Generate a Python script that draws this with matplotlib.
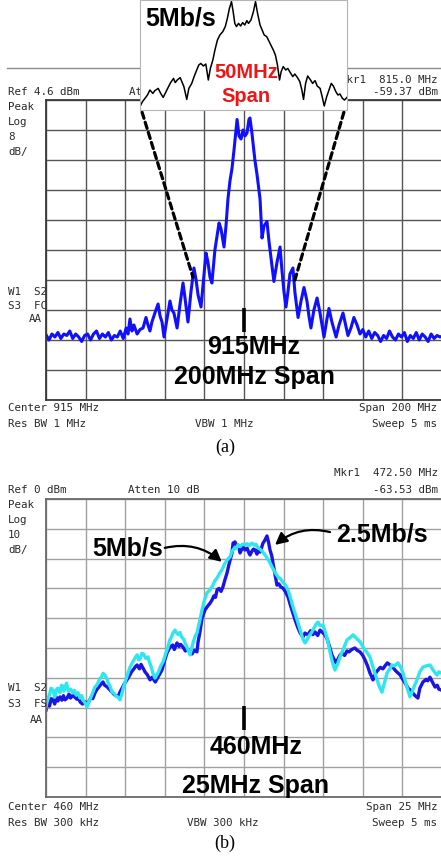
import numpy as np
import matplotlib
matplotlib.use('Agg')
import matplotlib.pyplot as plt
from matplotlib.patches import ConnectionPatch
from matplotlib.lines import Line2D

# ---------------- data: panel (a) 915 MHz, 200 MHz span ----------------
a_center, a_span = 915.0, 200.0          # MHz
a_ref, a_scale = 4.6, 8.0                # dBm, dB/div
a_freq = [815, 816.5, 818, 819.5, 821, 822.5, 824, 825.5, 827, 828.5, 830, 831.5, 833, 834.5,
          836, 837.5, 839, 840.5, 842, 843.5, 845, 846.5, 848, 849.5, 851, 852.5, 854, 855.5,
          856.4, 857.4, 858.4, 859.4, 861, 862.5, 864, 865.5, 866.5, 867.5, 868.5, 870, 871.6,
          872.6, 873.6, 874.6, 876.1, 877.6, 878.6, 879.6, 881.2, 882.7, 884.2, 885.2, 886.7,
          888.2, 889.7, 890.8, 891.8, 893.3, 894.8, 895.8, 896.8, 897.8, 898.8, 900.3, 902.4,
          903.4, 904.9, 905.9, 906.9, 907.9, 908.9, 909.9, 911, 911.5, 912.5, 913.5, 914.5,
          915.5, 916.5, 917.5, 918, 919, 920.5, 921.6, 923.1, 924.1, 925.1, 926.6, 927.6, 929.1,
          930.1, 931.7, 933.2, 934.2, 935.2, 936.2, 937.2, 938.2, 939.7, 940.7, 942.3, 943.8,
          945.3, 946.8, 947.8, 948.8, 950.3, 951.9, 953.4, 954.4, 955.4, 956.9, 957.9, 959.4,
          961.5, 963, 965, 966, 967.5, 969, 970.5, 972.1, 973.6, 975, 976.5, 978, 979.5, 981,
          982.5, 984, 985.5, 987, 988.5, 990, 991.5, 993, 994.5, 996, 997.5, 999, 1000.5, 1002,
          1003.5, 1005, 1006.5, 1008, 1009.5, 1011, 1012.5, 1014, 1015]
a_level = [-58.0, -59.4, -57.8, -58.6, -57.4, -59.0, -57.8, -58.2, -57.0, -59.0, -57.8, -58.6,
           -59.8, -58.2, -57.8, -59.4, -57.8, -57.0, -59.0, -57.8, -58.6, -57.4, -59.4, -58.2,
           -58.6, -57.0, -59.0, -56.2, -57.8, -53.8, -57.0, -55.4, -57.8, -56.6, -56.2, -53.4,
           -55.4, -57.0, -54.6, -52.2, -49.8, -53.0, -54.6, -58.6, -53.8, -49.0, -51.4, -52.2,
           -56.2, -49.8, -44.2, -48.2, -54.6, -46.6, -40.2, -43.4, -47.4, -50.6, -41.8, -36.2,
           -38.6, -42.6, -44.2, -35.4, -28.2, -29.8, -34.6, -29.0, -21.8, -17.0, -13.8, -9.0,
           -3.4, -0.6, -5.0, -5.8, -3.4, -5.0, -4.2, -0.6, -0.2, -4.2, -11.4, -15.4, -21.8,
           -32.2, -29.0, -27.8, -33.0, -39.4, -43.8, -38.6, -34.6, -41.0, -46.6, -50.6, -46.6,
           -41.8, -40.2, -46.6, -53.4, -49.0, -45.4, -49.0, -53.0, -56.2, -51.4, -48.2, -52.2,
           -55.4, -58.6, -53.8, -51.0, -54.6, -58.6, -55.4, -52.2, -54.6, -58.2, -56.2, -53.4,
           -55.4, -57.8, -56.6, -58.6, -57.0, -59.0, -57.4, -58.2, -59.8, -58.2, -59.0, -57.0,
           -58.6, -59.4, -57.8, -58.6, -57.4, -59.8, -58.2, -59.0, -57.4, -59.4, -57.8, -58.6,
           -59.8, -57.8, -59.0, -58.2, -58.6, -58.4]

# inset: 5 Mb/s, 50 MHz span (relative level, dB)
inset_freq = [890.0, 890.6, 891.2, 891.8, 892.4, 893.1, 893.6, 894.4, 895.0, 895.6, 896.3, 896.8,
              897.4, 898.1, 898.5, 899.0, 899.7, 900.1, 900.6, 901.3, 901.8, 902.5, 903.0, 903.7,
              904.2, 904.7, 905.3, 905.9, 906.5, 907.0, 907.6, 908.1, 908.7, 909.3, 910.0, 910.6,
              911.1, 911.6, 912.1, 912.5, 912.9, 913.3, 913.8, 914.3, 914.8, 915.3, 915.8, 916.2,
              916.8, 917.4, 917.9, 918.4, 919.0, 919.5, 920.0, 920.6, 921.2, 921.6, 922.2, 922.7,
              923.2, 923.7, 924.1, 924.6, 925.2, 925.7, 926.3, 926.9, 927.4, 928.0, 928.6, 929.1,
              929.5, 930.0, 930.5, 931.1, 931.7, 932.3, 932.8, 933.5, 934.0, 934.5, 935.1, 935.7,
              936.2, 936.7, 937.3, 937.8, 938.3, 938.9, 939.4, 940.0]
inset_level = [-53.3, -50.8, -49.2, -47.5, -45.0, -46.7, -45.3, -44.2, -46.7, -48.7, -45.8, -43.7,
               -41.3, -39.2, -41.3, -40.0, -38.8, -40.8, -43.3, -49.7, -44.2, -41.7, -38.7, -35.0,
               -32.5, -31.7, -33.0, -32.0, -40.0, -34.2, -30.0, -25.0, -20.0, -17.5, -15.8, -13.3,
               -9.2, -4.2, -0.8, -5.8, -11.7, -13.3, -11.7, -13.0, -11.3, -12.5, -10.3, -11.7,
               -10.0, -5.8, -0.8, -6.7, -12.5, -15.0, -17.5, -18.3, -20.8, -22.5, -25.0, -27.5,
               -32.5, -40.0, -35.8, -33.3, -35.0, -34.2, -36.3, -38.3, -37.0, -38.7, -40.8, -45.0,
               -49.7, -41.7, -38.0, -39.7, -41.7, -40.3, -43.0, -44.2, -48.3, -53.0, -48.3, -44.7,
               -41.7, -43.0, -45.8, -47.5, -47.0, -49.2, -50.0, -48.7]
inset_center, inset_span = 915.0, 50.0

# ---------------- data: panel (b) 460 MHz, 25 MHz span ----------------
b_center, b_span = 460.0, 25.0
b_ref, b_scale = 0.0, 10.0
b5_freq = [447.5, 447.6, 447.7, 447.82, 447.94, 448.05, 448.15, 448.25, 448.38, 448.48, 448.55,
           448.62, 448.7, 448.8, 448.9, 449.05, 449.2, 449.3, 449.4, 449.52, 449.65, 449.75,
           449.85, 449.97, 450.09, 450.2, 450.3, 450.45, 450.59, 450.7, 450.8, 450.9, 451.0,
           451.1, 451.22, 451.35, 451.45, 451.55, 451.67, 451.8, 451.9, 452.05, 452.17, 452.28,
           452.4, 452.55, 452.68, 452.8, 452.95, 453.1, 453.25, 453.35, 453.45, 453.55, 453.65,
           453.8, 453.94, 454.05, 454.15, 454.25, 454.38, 454.5, 454.6, 454.75, 454.9, 455.05,
           455.2, 455.3, 455.4, 455.52, 455.64, 455.75, 455.85, 455.95, 456.05, 456.18, 456.3,
           456.45, 456.59, 456.7, 456.8, 456.92, 457.03, 457.2, 457.35, 457.5, 457.66, 457.85,
           458.04, 458.15, 458.3, 458.45, 458.61, 458.75, 458.93, 459.05, 459.12, 459.24, 459.31,
           459.43, 459.52, 459.62, 459.75, 459.9, 460.06, 460.2, 460.35, 460.5, 460.65, 460.75,
           460.88, 461.0, 461.15, 461.33, 461.45, 461.6, 461.77, 461.9, 462.0, 462.15, 462.3,
           462.46, 462.6, 462.78, 462.95, 463.09, 463.25, 463.41, 463.6, 463.72, 463.85, 463.95,
           464.1, 464.29, 464.45, 464.55, 464.67, 464.8, 464.99, 465.15, 465.3, 465.5, 465.62,
           465.74, 465.9, 466.06, 466.3, 466.5, 466.7, 466.88, 467.05, 467.2, 467.35, 467.51,
           467.7, 467.95, 468.15, 468.4, 468.55, 468.71, 468.85, 469.03, 469.2, 469.34, 469.5,
           469.72, 469.9, 470.04, 470.25, 470.48, 470.7, 470.92, 471.1, 471.3, 471.5, 471.74,
           471.95, 472.18, 472.3, 472.44]
b5_level = [-69.8, -67.0, -66.0, -63.5, -64.1, -66.5, -64.0, -63.5, -65.0, -62.5, -63.0, -64.5,
            -63.1, -61.8, -64.5, -63.8, -65.1, -64.2, -65.8, -65.0, -66.8, -66.0, -67.5, -68.5,
            -69.8, -68.0, -67.0, -65.0, -63.1, -62.5, -61.5, -60.2, -59.8, -58.5, -59.1, -60.5,
            -62.0, -63.0, -64.8, -65.2, -66.0, -66.5, -67.4, -65.5, -63.0, -60.5, -58.4, -56.5,
            -55.0, -53.5, -52.3, -54.0, -53.5, -51.8, -52.0, -53.5, -53.0, -55.0, -56.5, -58.5,
            -60.1, -59.0, -58.0, -56.0, -54.5, -52.0, -49.7, -47.5, -46.5, -45.0, -44.0, -45.0,
            -45.5, -44.8, -46.2, -47.0, -48.5, -50.5, -52.3, -50.0, -48.0, -46.0, -45.0, -41.0,
            -37.2, -34.0, -31.5, -30.5, -28.9, -27.5, -26.5, -25.0, -23.8, -22.0, -20.5, -19.8,
            -19.5, -17.5, -17.1, -16.2, -16.5, -15.4, -16.0, -15.2, -15.4, -15.0, -15.6, -14.8,
            -15.5, -15.2, -16.4, -16.8, -17.5, -18.8, -19.8, -21.0, -22.8, -24.0, -25.0, -26.2,
            -26.8, -27.9, -28.8, -30.5, -33.5, -36.2, -38.8, -41.6, -45.0, -47.0, -48.3, -47.5,
            -46.0, -44.6, -43.0, -42.0, -41.3, -42.5, -42.3, -45.0, -48.0, -53.0, -55.5, -57.4,
            -55.5, -53.0, -50.0, -47.3, -46.5, -45.6, -46.5, -47.3, -48.0, -49.7, -51.0, -53.0,
            -56.5, -60.7, -63.0, -64.8, -62.0, -58.4, -57.0, -55.7, -56.0, -55.0, -56.5, -58.4,
            -62.5, -66.4, -63.5, -60.7, -58.0, -56.4, -56.0, -55.7, -57.5, -59.1, -58.0, -58.4]
b25_freq = [447.5, 447.6, 447.72, 447.83, 447.94, 448.05, 448.15, 448.25, 448.38, 448.5, 448.6,
            448.7, 448.83, 448.95, 449.05, 449.2, 449.32, 449.45, 449.55, 449.65, 449.8, 449.95,
            450.09, 450.2, 450.35, 450.45, 450.59, 450.7, 450.85, 451.0, 451.1, 451.2, 451.35,
            451.54, 451.7, 451.85, 452.05, 452.15, 452.3, 452.45, 452.61, 452.75, 452.9, 453.05,
            453.15, 453.25, 453.4, 453.5, 453.62, 453.75, 453.9, 454.07, 454.2, 454.4, 454.6,
            454.82, 455.0, 455.15, 455.33, 455.5, 455.6, 455.77, 455.9, 456.0, 456.15, 456.3,
            456.45, 456.59, 456.72, 456.85, 457.03, 457.1, 457.22, 457.35, 457.54, 457.7, 457.85,
            457.98, 458.1, 458.2, 458.3, 458.42, 458.55, 458.67, 458.8, 458.93, 459.05, 459.15,
            459.24, 459.31, 459.43, 459.55, 459.65, 459.75, 459.85, 459.95, 460.06, 460.2, 460.3,
            460.38, 460.5, 460.6, 460.7, 460.82, 460.92, 461.01, 461.1, 461.2, 461.3, 461.45,
            461.55, 461.64, 461.75, 461.83, 461.95, 462.08, 462.2, 462.32, 462.46, 462.6, 462.78,
            462.95, 463.09, 463.25, 463.41, 463.55, 463.72, 463.85, 464.04, 464.2, 464.35, 464.48,
            464.65, 464.8, 464.92, 465.1, 465.24, 465.4, 465.55, 465.7, 465.81, 465.95, 466.05,
            466.19, 466.35, 466.5, 466.63, 466.8, 467.0, 467.15, 467.32, 467.5, 467.64, 467.8,
            467.95, 468.05, 468.14, 468.3, 468.46, 468.6, 468.77, 468.9, 469.05, 469.22, 469.4,
            469.55, 469.66, 469.85, 470.04, 470.2, 470.35, 470.48, 470.61, 470.8, 470.98, 471.1,
            471.3, 471.5, 471.6, 471.74, 471.9, 472.06, 472.2, 472.3, 472.44]
b25_level = [-70.8, -68.5, -69.5, -67.0, -67.4, -68.8, -66.5, -67.8, -66.4, -67.5, -66.0, -67.4,
             -66.8, -65.5, -66.8, -65.8, -66.5, -67.2, -66.5, -68.1, -68.8, -68.0, -69.1, -68.0,
             -66.5, -67.0, -65.1, -64.0, -63.0, -62.0, -61.4, -62.5, -63.0, -64.1, -65.0, -65.8,
             -66.4, -65.0, -63.5, -62.0, -60.7, -59.5, -58.0, -57.0, -56.2, -55.7, -57.0, -55.5,
             -56.7, -58.0, -59.0, -60.7, -59.8, -61.4, -59.5, -57.4, -54.0, -51.5, -49.7, -49.0,
             -50.5, -48.3, -49.5, -48.8, -49.7, -51.0, -50.5, -51.3, -52.0, -50.8, -51.3, -48.0,
             -44.6, -40.0, -37.2, -36.0, -35.0, -33.9, -32.5, -33.0, -30.5, -30.0, -31.0, -29.5,
             -27.0, -24.8, -22.0, -20.0, -18.1, -14.8, -14.4, -16.0, -15.5, -18.1, -17.0, -16.0,
             -17.1, -16.5, -18.0, -18.8, -17.5, -16.8, -17.1, -18.5, -16.5, -17.8, -16.5, -14.8,
             -14.0, -12.4, -14.5, -17.1, -19.0, -21.5, -25.0, -28.9, -28.5, -29.5, -29.9, -31.0,
             -32.9, -36.0, -38.3, -41.0, -43.3, -45.0, -46.3, -45.0, -45.6, -44.2, -45.5, -44.6,
             -45.8, -44.0, -44.6, -45.5, -46.9, -49.5, -52.3, -54.0, -55.0, -53.5, -52.5, -51.7,
             -52.5, -51.0, -51.3, -50.5, -50.0, -50.8, -51.3, -52.5, -54.0, -56.0, -58.4, -59.5,
             -60.7, -58.5, -57.4, -56.5, -57.0, -56.0, -55.0, -55.7, -56.5, -57.5, -58.1, -59.0,
             -60.7, -62.0, -63.5, -64.0, -64.8, -66.0, -66.8, -63.5, -61.4, -60.5, -61.0, -59.8,
             -61.5, -63.1, -62.5, -63.8, -64.1]

# ---------------- figure ----------------
W, H = 441, 856
fig = plt.figure(figsize=(W / 100, H / 100), dpi=100)
fig.patch.set_facecolor('white')


def fx(px):
    return px / W


def fy(py):
    return 1 - py / H


MONO = 'DejaVu Sans Mono'
SANS = 'Liberation Sans'
SERIF = 'Liberation Serif'


def itext(px, py, s, ha='left', **kw):
    fig.text(fx(px), fy(py), s, ha=ha, va='center', family=MONO, size=7.8,
             color='#2a2a2a', **kw)


def btext(px, py, s, size=18, color='black', ha='center', z=12):
    fig.text(fx(px), fy(py), s, ha=ha, va='baseline', family=SANS, weight='bold',
             size=size, color=color, zorder=z)


def setup_screen(ax, center, span, ref, scale, grid_col, spine_col):
    ax.set_xlim(center - span / 2, center + span / 2)
    ax.set_ylim(ref - 10 * scale, ref)
    ax.set_xticks(np.linspace(center - span / 2, center + span / 2, 11))
    ax.set_yticks(np.linspace(ref - 10 * scale, ref, 11))
    ax.grid(True, color=grid_col, lw=1.0)
    ax.set_axisbelow(True)
    ax.tick_params(length=0, labelleft=False, labelbottom=False)
    for s in ax.spines.values():
        s.set_color(spine_col)
        s.set_linewidth(1.3)


# ---------- panel (a) ----------
fig.add_artist(Line2D([fx(7), 1.0], [fy(68), fy(68)], transform=fig.transFigure,
                      color='#8c8c8c', lw=1.0))
ax_a = fig.add_axes([fx(46), fy(400), 396 / W, 300 / H])
setup_screen(ax_a, a_center, a_span, a_ref, a_scale, '#555555', '#3a3a3a')
ax_a.plot(a_freq, a_level, color='#1010ff', lw=2.2, solid_joinstyle='round')
a_mark = (-57.2, -50.9)
ax_a.plot([a_center, a_center], a_mark, color='black', lw=2.6, solid_capstyle='butt')

itext(438, 80, 'Mkr1  815.0 MHz', ha='right')
itext(8, 92, 'Ref 4.6 dBm')
itext(129, 92, 'Atten 10 dB')
itext(438, 92, '-59.37 dBm', ha='right')
for py, s in [(107, 'Peak'), (122, 'Log'), (137, '8'), (152, 'dB/')]:
    itext(8, py, s)
itext(8, 292, 'W1  S2')
itext(8, 306, 'S3  FC')
itext(42, 319, 'AA', ha='right')
itext(8, 408, 'Center 915 MHz')
itext(8, 424, 'Res BW 1 MHz')
itext(224, 424, 'VBW 1 MHz', ha='center')
itext(437, 408, 'Span 200 MHz', ha='right')
itext(437, 424, 'Sweep 5 ms', ha='right')
btext(254, 354, '915MHz')
btext(254, 384, '200MHz Span')
fig.text(fx(225), fy(447), '(a)', ha='center', va='center', family=SERIF, size=13)

# inset
ins = fig.add_axes([fx(140), fy(110), 207 / W, 110 / H])
ins.set_zorder(10)
ins.set_xlim(inset_center - inset_span / 2, inset_center + inset_span / 2)
ins.set_ylim(-55, 0)
ins.set_xticks([])
ins.set_yticks([])
for s in ins.spines.values():
    s.set_color('#b4b4b4')
    s.set_linewidth(0.8)
ins.plot(inset_freq, inset_level, color='black', lw=1.1)
btext(145, 25, '5Mb/s', ha='left')
btext(246, 78, '50MHz', size=14.5, color='#f01414')
btext(246, 102, 'Span', size=14.5, color='#f01414')

# dashed zoom lines
left_end = (889.2, -42.6)
right_end = (940.7, -43.4)
for xa, xyb in [(0.01, left_end), (0.985, right_end)]:
    con = ConnectionPatch(xyA=(xa, -0.02), coordsA=ins.transAxes, xyB=xyb,
                          coordsB=ax_a.transData, color='black', lw=2.3,
                          linestyle=(0, (2.0, 1.3)), zorder=5)
    fig.add_artist(con)

# ---------- panel (b) ----------
ax_b = fig.add_axes([fx(46), fy(797), 396 / W, 298 / H])
setup_screen(ax_b, b_center, b_span, b_ref, b_scale, '#a0a0a0', '#6a6a6a')
ax_b.plot(b25_freq, b25_level, color='#1a14e6', lw=2.4, solid_joinstyle='round')
ax_b.plot(b5_freq, b5_level, color='#2ee6f0', lw=2.4, solid_joinstyle='round')
b_mark = (-77.5, -69.5)
ax_b.plot([b_center, b_center], b_mark, color='black', lw=2.6, solid_capstyle='butt')

arrow_kw = dict(arrowstyle='-|>,head_length=0.55,head_width=0.28', lw=1.6, color='black',
                shrinkA=0, shrinkB=0, mutation_scale=13)
ax_b.annotate('', xy=(458.6, -21.1), xytext=(455.0, -16.4),
              arrowprops=dict(connectionstyle='arc3,rad=-0.25', **arrow_kw))
ax_b.annotate('', xy=(461.96, -15.4), xytext=(465.43, -11.1),
              arrowprops=dict(connectionstyle='arc3,rad=0.25', **arrow_kw))
btext(128, 555, '5Mb/s')
btext(382, 541, '2.5Mb/s')
btext(256, 754, '460MHz')
btext(256, 793, '25MHz Span')

itext(438, 473, 'Mkr1  472.50 MHz', ha='right')
itext(8, 490, 'Ref 0 dBm')
itext(128, 490, 'Atten 10 dB')
itext(438, 490, '-63.53 dBm', ha='right')
for py, s in [(505, 'Peak'), (520, 'Log'), (535, '10'), (550, 'dB/')]:
    itext(8, py, s)
itext(8, 688, 'W1  S2')
itext(8, 704, 'S3  FS')
itext(43, 720, 'AA', ha='right')
itext(8, 807, 'Center 460 MHz')
itext(8, 823, 'Res BW 300 kHz')
itext(223, 823, 'VBW 300 kHz', ha='center')
itext(437, 807, 'Span 25 MHz', ha='right')
itext(437, 823, 'Sweep 5 ms', ha='right')
fig.text(fx(225), fy(843), '(b)', ha='center', va='center', family=SERIF, size=13)

fig.savefig('out.png', dpi=100, facecolor='white')
